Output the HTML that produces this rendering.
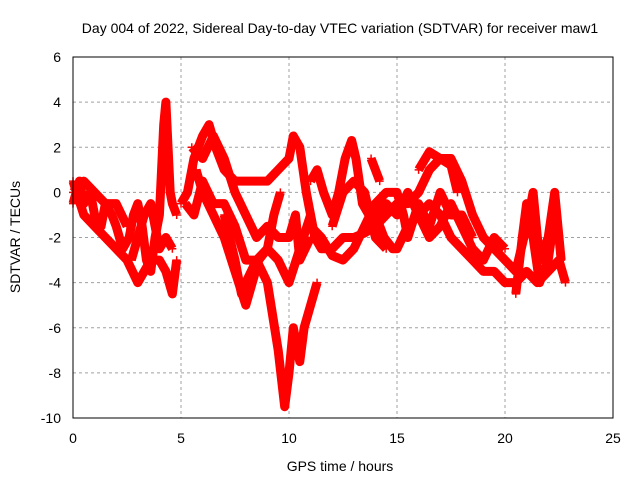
<!DOCTYPE html>
<html><head><meta charset="utf-8"><style>
body{margin:0;background:#fff}
svg{display:block;font-family:"Liberation Sans",sans-serif}
</style></head><body>
<svg id="chart" width="640" height="480" xmlns="http://www.w3.org/2000/svg">
<rect width="640" height="480" fill="#fff"/>
<text x="340" y="33" font-size="14" text-anchor="middle">Day 004 of 2022, Sidereal Day-to-day VTEC variation (SDTVAR) for receiver maw1</text>
<g id="grid"></g>
<g id="marks"></g>
<rect x="73" y="57" width="540" height="361" fill="none" stroke="#000" stroke-width="1"/>
<g id="ticks"></g>
<text x="340" y="471" font-size="14" text-anchor="middle">GPS time / hours</text>
<text x="20" y="237" font-size="14" text-anchor="middle" transform="rotate(-90 20 237)">SDTVAR / TECUs</text>
</svg>
<script>
const xTicks=[0,5,10,15,20,25];
const yTicks=[6,4,2,0,-2,-4,-6,-8,-10];
const trackA=[[0,-0.5],[0.3,0.5],[0.5,-0.5],[0.8,0],[1,-1],[1.3,-1.5],[1.5,-0.5],[1.8,-1],[2,-1.5],[2.3,-2.5],[2.6,-2],[2.8,-1],[3,-0.5],[3.2,-1.5],[3.4,-3],[3.6,-3.5],[3.8,-2],[4,-1],[4.1,1],[4.2,3],[4.3,4],[4.4,2],[4.5,0],[4.6,-0.5],[4.8,-1]];
const trackB=[[0,0.5],[0.5,-1],[1,-1.5],[1.5,-2],[2,-2.5],[2.5,-3],[3,-4],[3.3,-3.5],[3.6,-3],[4,-3],[4.3,-3.5],[4.6,-4.5],[4.8,-3]];
const trackC=[[5,-0.5],[5.3,0],[5.6,1.5],[6,2.5],[6.3,3],[6.6,2],[7,1],[7.5,0.5],[8,0.5],[8.5,0.5],[9,0.5],[9.5,1],[10,1.5],[10.2,2.5],[10.5,2],[10.8,0],[11,-1],[11.2,-2],[11.5,-2.5],[12,-2.5],[12.5,-2],[13,-2],[13.5,-1.8],[14,-1.5],[14.5,-1],[15,-0.5],[15.5,-0.5],[16,0],[16.5,1],[17,1.5],[17.5,1.5],[18,0.5],[18.5,-1],[19,-2],[19.5,-2.5],[20,-3],[20.5,-3.5],[21,-1.5],[21.3,0],[21.6,-3],[22,-2],[22.3,0],[22.6,-3]];
const trackD=[[5.2,-0.5],[5.6,-1],[6,0.5],[6.5,-0.5],[7,-0.5],[7.5,-1.5],[8,-3],[8.5,-3],[9,-2.5],[9.5,-3],[10,-4],[10.5,-2.5],[11,-1]];
const trackE=[[7,-1],[7.5,-3],[7.8,-4.5],[8,-4],[8.5,-3],[9,-4],[9.5,-7],[9.8,-9.5],[10,-8],[10.2,-6],[10.5,-7.5],[10.7,-6],[11,-5],[11.3,-4]];
const trackF=[[5.7,1],[6,0],[6.5,-1],[7,-2],[7.5,-3.5],[8,-5],[8.3,-4],[8.6,-3],[9,-2.5],[9.3,-1],[9.6,0]];
const trackG=[[11,0.5],[11.3,1],[11.6,0],[12,-1],[12.3,0],[12.6,1.5],[12.9,2.3],[13.1,1.5],[13.4,-0.5],[13.7,-1],[14,-1],[14.4,-2],[14.8,-2.5],[15,-2.5],[15.5,-1.5],[16,-1],[16.5,-0.5],[17,-1],[17.5,-2],[18,-2.5],[18.5,-3],[19,-3.5],[19.5,-3.5],[20,-4],[20.5,-4],[21,-3.5],[21.5,-4],[22,-3.5],[22.5,-3],[22.8,-4]];
const trackH=[[11,-1.5],[11.5,-2],[12,-2.8],[12.5,-3],[13,-2.5],[13.5,-1.5],[14,-0.5],[14.5,0],[15,0],[15.3,-1],[15.5,-2],[16,-0.5],[16.5,-1.5],[17,0],[17.5,-1],[18,-1],[18.5,-2]];
const trackI=[[13.8,1.5],[14,1],[14.2,0.5]];
const trackJ=[[0,0],[0.5,0.5],[1,0],[1.5,-0.5],[2,-0.5],[2.5,-1.5]];
const trackK=[[2.7,-3],[3,-2],[3.3,-1],[3.6,-0.5],[4,-2.5],[4.3,-2],[4.6,-2.5]];
const trackL=[[5.5,2],[6,1.5],[6.5,2.5],[7,1.5],[7.5,0],[8,-1],[8.5,-2],[9,-1.5],[9.5,-2],[10,-2],[10.3,-1],[10.5,-3],[11,-2]];
const trackM=[[14,-1],[14.5,-0.5],[15,-1],[15.5,0],[16,-1],[16.5,-2],[17,-1.5],[17.5,-0.5],[18,-1.5],[18.5,-2.5],[19,-3],[19.5,-2],[20,-2.5]];
const trackN=[[16,1],[16.5,1.8],[17,1.5],[17.5,1.2],[17.8,0]];
const trackO=[[20.5,-4.5],[20.8,-2],[21,-0.5],[21.3,-2],[21.6,-4],[22,-3],[22.3,-1],[22.5,-2]];
const trackP=[[12,-1.5],[12.5,0],[13,0.5],[13.5,0],[14,-2],[14.5,-2.5]];
const tracks=[trackA,trackB,trackC,trackD,trackE,trackF,trackG,trackH,trackI,trackJ,trackK,trackL,trackM,trackN,trackO,trackP];
const X=v=>73+v*21.6, Y=v=>57+(6-v)*22.5625;
const NS="http://www.w3.org/2000/svg";
const grid=document.getElementById('grid'),ticks=document.getElementById('ticks'),marks=document.getElementById('marks');
function mk(t,a,p){const e=document.createElementNS(NS,t);for(const k in a)e.setAttribute(k,a[k]);p.appendChild(e);return e;}
xTicks.forEach(t=>{const x=X(t);
 if(t>0&&t<25){const l=mk('line',{x1:x,y1:57,x2:x,y2:418,stroke:'#a0a0a0','stroke-dasharray':'3,3'},grid);}
 const tx=mk('text',{x:x,y:443,'font-size':14,'text-anchor':'middle'},ticks);tx.textContent=t;
 
 });
yTicks.forEach(t=>{const y=Y(t);
 if(t>-10&&t<6){const l=mk('line',{x1:73,y1:y,x2:613,y2:y,stroke:'#a0a0a0','stroke-dasharray':'3,3'},grid);}
 const tx=mk('text',{x:61,y:y+5,'font-size':14,'text-anchor':'end'},ticks);tx.textContent=t;
 
 });
tracks.forEach(tr=>{
 const pl=mk('polyline',{points:tr.map(p=>X(p[0])+','+Y(p[1])).join(' '),fill:'none',stroke:'#f00','stroke-width':9,'stroke-linejoin':'round'},marks);
 
 
 tr.forEach(p=>{const x=X(p[0]),y=Y(p[1]);
  const m=mk('path',{d:`M${x-4},${y}h8M${x},${y-4}v8`,stroke:'#f00','stroke-width':1.5},marks);
  
  });
});
</script>
</body></html>
